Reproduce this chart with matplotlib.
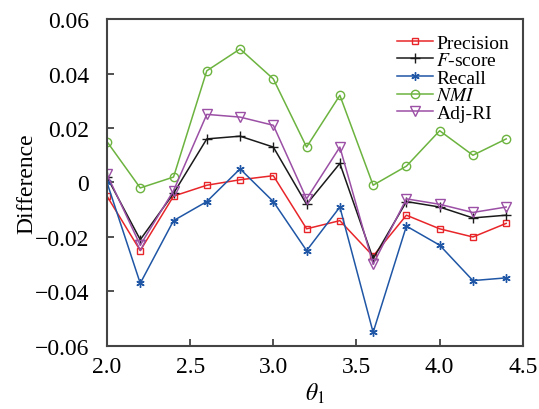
import matplotlib
matplotlib.use("Agg")
import matplotlib.pyplot as plt
from matplotlib.ticker import FuncFormatter

theta = [2.0, 2.2, 2.4, 2.6, 2.8, 3.0, 3.2, 3.4, 3.6, 3.8, 4.0, 4.2, 4.4]

precision = [-0.005, -0.025, -0.005, -0.001, 0.001, 0.0025, -0.017, -0.014, -0.027, -0.012, -0.017, -0.020, -0.015]
fscore    = [0.002, -0.021, -0.004, 0.016, 0.017, 0.013, -0.008, 0.007, -0.028, -0.007, -0.009, -0.013, -0.012]
recall    = [0.000, -0.037, -0.014, -0.007, 0.005, -0.007, -0.025, -0.009, -0.055, -0.016, -0.023, -0.036, -0.035]
nmi       = [0.015, -0.002, 0.002, 0.041, 0.049, 0.038, 0.013, 0.032, -0.001, 0.006, 0.019, 0.010, 0.016]
adj_ri    = [0.003, -0.023, -0.003, 0.025, 0.024, 0.021, -0.006, 0.013, -0.030, -0.006, -0.008, -0.011, -0.009]

plt.rcParams["font.family"] = ["Liberation Serif", "DejaVu Serif"]
plt.rcParams["mathtext.fontset"] = "stix"

fig = plt.figure(figsize=(5.39, 4.10), dpi=100)
ax = fig.add_axes([0.1985, 0.1537, 0.7715, 0.7975])

ax.plot(theta, precision, color="#e8262a", marker="s", mfc="none", ms=5, lw=1.1, label="Precision")
ax.plot(theta, fscore, color="#1a1a1a", marker="+", ms=7, lw=1.1, label="$F$-score")
ax.plot(theta, recall, color="#1f56a5", marker=(6, 2, 0), ms=6, lw=1.1, label="Recall")
ax.plot(theta, nmi, color="#6cb33f", marker="o", mfc="none", ms=6, lw=1.1, label="$NMI$")
ax.plot(theta, adj_ri, color="#9b4fa5", marker="v", mfc="none", ms=7, lw=1.1, label="Adj-RI")

ax.set_xlim(2.0, 4.5)
ax.set_ylim(-0.06, 0.06)
ax.set_xticks([2.0, 2.5, 3.0, 3.5, 4.0, 4.5])
ax.set_yticks([-0.06, -0.04, -0.02, 0, 0.02, 0.04, 0.06])
ax.xaxis.set_major_formatter(FuncFormatter(lambda v, p: f"{v:.1f}"))
ax.yaxis.set_major_formatter(FuncFormatter(lambda v, p: "0" if abs(v) < 1e-9 else f"{v:.2f}".replace("-", "\u2212")))
ax.tick_params(direction="in", labelsize=17, length=5, width=1.2, color="#333333")
ax.tick_params(axis="x", pad=7)
ax.tick_params(axis="y", pad=13)
for s in ax.spines.values():
    s.set_color("#444444")
    s.set_linewidth(1.5)

ax.set_xlabel(r"$\theta_1$", fontsize=17, labelpad=3)
ax.set_ylabel("Difference", fontsize=17, labelpad=-2)

ax.legend(loc="upper right", frameon=False, fontsize=14, handlelength=1.85,
          handletextpad=0.15, labelspacing=0.0, borderaxespad=0.2,
          bbox_to_anchor=(0.995, 0.99))

fig.savefig("out.png", dpi=100)
